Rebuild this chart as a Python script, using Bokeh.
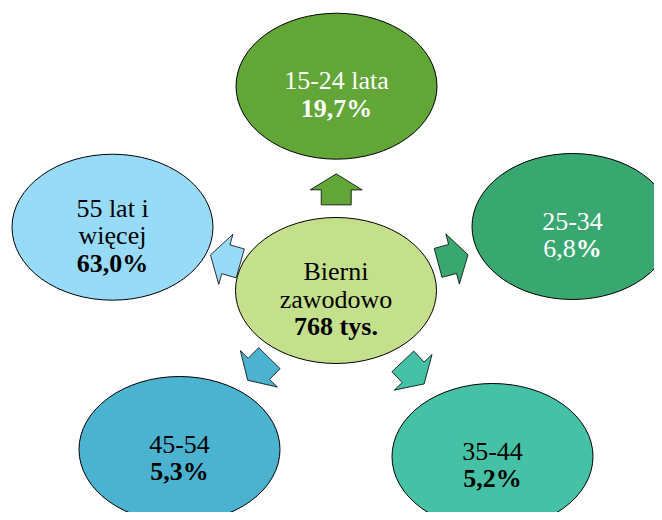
import math
from bokeh.plotting import figure
from bokeh.models import Range1d, ColumnDataSource
from bokeh.core.properties import value
from bokeh.embed import file_html
from bokeh.resources import INLINE

# ---- data ----
center_label = ["Bierni", "zawodowo"]
total_thousands = 768
group_labels = [["15-24 lata"], ["25-34"], ["35-44"], ["45-54"], ["55 lat i", "więcej"]]
group_shares = [19.7, 6.8, 5.2, 5.3, 63.0]

# ---- layout (pixel positions, y measured downwards) ----
center_pos = (335.5, 290.0)
node_pos = [(336.0, 85.7), (572.0, 226.0), (492.0, 456.0), (179.0, 449.0), (112.0, 226.7)]
node_fill = ["#63A638", "#39A870", "#45C2A5", "#4BB2CF", "#98DBF9"]
node_text = ["white", "white", "black", "black", "black"]
value_bold_number = [True, False, True, True, True]
center_fill = "#C5E08C"
ELL_W, ELL_H = 201, 146
FONT = value("'Times New Roman', 'Liberation Serif', Tinos, serif")
FS = "26px"
LINE_H = 27.5
ARROW_FRAC = 0.495

W, H = 654, 512
def X(x_img):
    return x_img
def Y(y_img):
    return H - y_img

p = figure(width=W, height=H, output_backend="svg", toolbar_location=None,
           x_range=Range1d(0, W), y_range=Range1d(0, H), min_border=0)
p.xaxis.visible = False
p.yaxis.visible = False
p.grid.visible = False
p.outline_line_color = None
p.background_fill_color = "white"
p.border_fill_color = "white"

# ---- arrows ----
shape = [(-15.5, -15), (-0.5, -15), (-0.5, -26), (15.5, 0), (-0.5, 26), (-0.5, 15), (-15.5, 15)]
axs, ays = [], []
cx0, cy0 = X(center_pos[0]), Y(center_pos[1])
for (nx, ny) in node_pos:
    tx, ty = X(nx), Y(ny)
    dx, dy = tx - cx0, ty - cy0
    d = math.hypot(dx, dy)
    ux, uy = dx / d, dy / d
    vx, vy = -uy, ux
    mx, my = cx0 + dx * ARROW_FRAC, cy0 + dy * ARROW_FRAC
    axs.append([mx + u * ux + v * vx for (u, v) in shape])
    ays.append([my + u * uy + v * vy for (u, v) in shape])
p.patches(xs=axs, ys=ays, fill_color=node_fill, line_color="black", line_width=0.8)

# ---- ellipses ----
src = ColumnDataSource(dict(x=[X(q[0]) for q in node_pos] + [X(center_pos[0])],
                            y=[Y(q[1]) for q in node_pos] + [Y(center_pos[1])],
                            c=node_fill + [center_fill]))
p.ellipse(x="x", y="y", width=ELL_W, height=ELL_H, fill_color="c",
          line_color="black", line_width=1, source=src)

def fmt(v):
    return f"{v:.1f}".replace(".", ",")

def draw_lines(cx, cy_img, lines, color):
    n = len(lines)
    for i, (txt, bold) in enumerate(lines):
        if not txt:
            continue
        base = cy_img + 8.5 + (i - (n - 1) / 2) * LINE_H
        p.text(x=[X(cx)], y=[Y(base)], text=[txt], text_align="center",
               text_baseline="alphabetic", text_font=FONT, text_font_size=FS,
               text_font_style="bold" if bold else "normal", text_color=color)

# center node
draw_lines(center_pos[0], center_pos[1],
           [(t, False) for t in center_label] + [(f"{total_thousands} tys.", True)], "black")

# outer nodes
for lab, share, (nx, ny), col, bnum in zip(group_labels, group_shares, node_pos, node_text, value_bold_number):
    lines = [(t, False) for t in lab]
    if bnum:
        lines.append((fmt(share) + "%", True))
        draw_lines(nx, ny, lines, col)
    else:
        draw_lines(nx, ny, lines + [("", False)], col)
        n = len(lines) + 1
        base = ny + 8.5 + ((n - 1) - (n - 1) / 2) * LINE_H
        split = nx + 3.25
        p.text(x=[X(split)], y=[Y(base)], text=[fmt(share)], text_align="right",
               text_baseline="alphabetic", text_font=FONT, text_font_size=FS,
               text_color=col)
        p.text(x=[X(split)], y=[Y(base)], text=["%"], text_align="left",
               text_baseline="alphabetic", text_font=FONT, text_font_size=FS,
               text_font_style="bold", text_color=col)

open("out.html", "w").write(file_html(p, INLINE))
